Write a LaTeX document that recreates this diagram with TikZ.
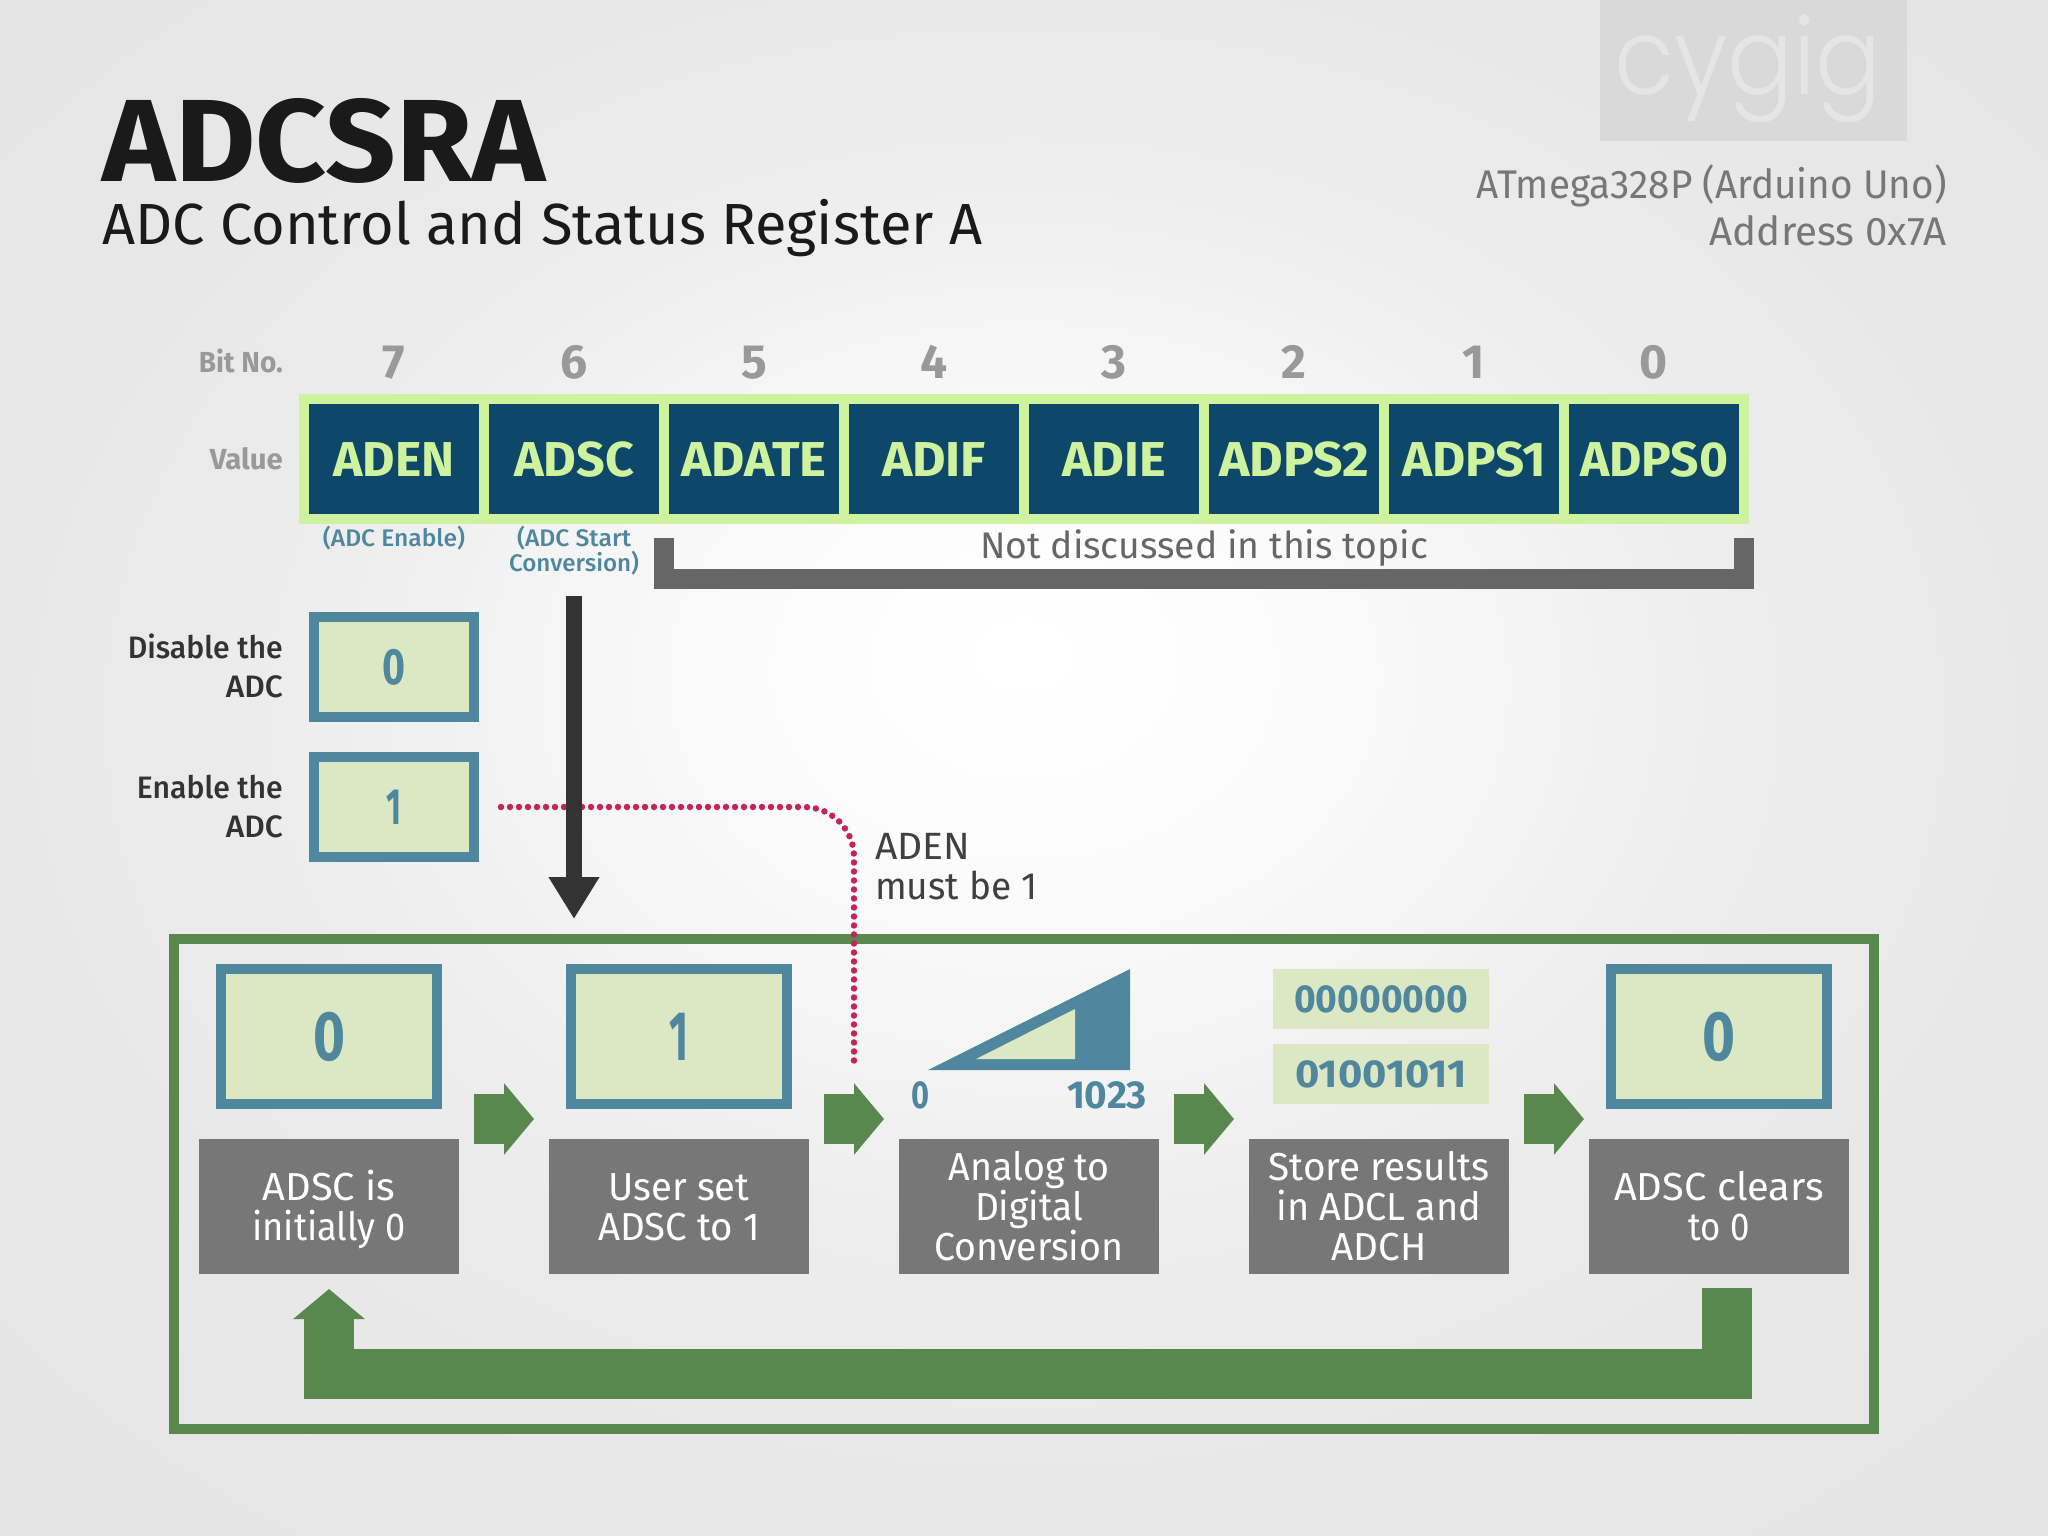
\documentclass[tikz,border=0pt]{standalone}
\usepackage{fontspec}
\usepackage{graphicx}
\setmainfont{Fira Sans}
\newfontfamily\medf{Fira Sans Medium}
\newfontfamily\logof{Poppins Light}
\usetikzlibrary{arrows.meta,calc}
\definecolor{navy}{HTML}{0D4769}
\definecolor{lime}{HTML}{CFF29F}
\definecolor{pale}{HTML}{DCE8C4}
\definecolor{steel}{HTML}{4F879E}
\definecolor{leaf}{HTML}{58884E}
\definecolor{slate}{HTML}{777777}
\definecolor{bracketc}{HTML}{666666}
\definecolor{inkc}{HTML}{1A1A1A}
\definecolor{crim}{HTML}{C2255C}
\definecolor{bga}{HTML}{FFFFFF}
\definecolor{bgb}{HTML}{FDFDFD}
\definecolor{bgc}{HTML}{F7F7F7}
\definecolor{bgd}{HTML}{F0F0F0}
\definecolor{bge}{HTML}{EBEBEB}
\definecolor{bgf}{HTML}{E8E8E8}
\definecolor{bgg}{HTML}{E2E2E2}
\pgfdeclareradialshading{bgshade}{\pgfpoint{0bp}{3.8bp}}{%
 color(0bp)=(bga);color(5bp)=(bgb);color(10bp)=(bgc);color(15bp)=(bgd);color(20bp)=(bge);color(25bp)=(bgf);color(40bp)=(bgg)}
\newcommand{\tw}[2]{\resizebox{#1pt}{\height}{#2}}
\newcommand{\Lt}[3]{\rule[\dimexpr-#1pt/5\relax]{0pt}{#1pt}\smash{\tw{#2}{#3}}}
\newcommand{\Lg}[2]{\rule[-6pt]{0pt}{40pt}\smash{\tw{#1}{#2}}}
\newcommand{\fs}[2]{\fontsize{#1}{#2}\selectfont}
\tikzset{
 every node/.style={inner sep=0pt},
 cellbox/.style={fill=navy,minimum width=170pt,minimum height=110pt,text=lime,font=\bfseries\fs{49}{49}},
 bitnum/.style={anchor=base,text=black!40,font=\bfseries\fs{48}{48}},
 sidehead/.style={anchor=base east,text=black!40,font=\bfseries\fs{29}{29}},
 caption/.style={text=steel,align=center,font=\medf\fs{24}{25}},
 sidelabel/.style={anchor=east,align=right,text=black!80,font=\medf\fs{31}{39}},
 smallval/.style={fill=pale,draw=steel,line width=10pt,minimum width=160pt,minimum height=100pt,text=steel,font=\bfseries\fs{51}{51}},
 bigval/.style={fill=pale,draw=steel,line width=10pt,minimum width=216pt,minimum height=135pt,text=steel,font=\bfseries\fs{70}{70}},
 stagebox/.style={fill=slate,text=white,minimum width=260pt,minimum height=135pt,align=center,font=\fs{39}{40}},
 binbox/.style={fill=pale,text=steel,minimum width=216pt,minimum height=60pt,font=\bfseries\fs{39}{39}},
 flowarrow/.style={leaf,line width=50pt,-{Triangle[length=30pt,width=70pt]}},
 rampnum/.style={text=steel,anchor=base,font=\bfseries\fs{39}{39}},
}
\begin{document}
\begin{tikzpicture}[x=1pt,y=-1pt]
\useasboundingbox (0,0) rectangle (2048,1536);
\shade[shading=bgshade] (0,0) rectangle (2048,1536);
% watermark
\node[fill=black!15,minimum width=307pt,minimum height=141pt] (logo) at (1753.5,70.5) {};
\node[anchor=base,text=black!10,font=\logof\fs{106}{106}] (logotext) at (1748,95) {\tw{268}{cygig}};
% headings
\node[anchor=base west,text=inkc,font=\bfseries\fs{117}{117}] (title) at (102,181) {\tw{443}{ADCSRA}};
\node[anchor=base west,text=inkc,font=\fs{58}{58}] (subtitle) at (102,244) {\tw{880}{ADC Control and Status Register A}};
\node[anchor=east,align=right,text=slate,font=\fs{40}{47}] (chip) at (1947,207.4) {\Lt{47}{470}{ATmega328P (Arduino Uno)}\\\Lt{47}{237}{Address 0x7A}};
% register
\node[sidehead] (bitno) at (283,372) {\tw{84}{Bit No.}};
\node[sidehead] (valuelbl) at (283,469) {\tw{73}{Value}};
\node[fill=lime,minimum width=1450pt,minimum height=130pt] (reg) at (1024,459) {};
\foreach \i/\x/\n/\w in {7/394/ADEN/121,6/574/ADSC/120,5/754/ADATE/145,4/934/ADIF/104,3/1114/ADIE/104,2/1294/ADPS2/150,1/1474/ADPS1/144,0/1654/ADPS0/148}{
 \node[bitnum] (bit\i) at (\x,378) {\i};
 \node[cellbox] (cell\i) at (\x,459) {\rule[-1pt]{0pt}{36pt}\tw{\w}{\n}};
}
\node[caption,anchor=base] (capen) at (394,546) {\tw{142}{(ADC Enable)}};
\node[caption] (capsc) at (574,551) {\Lt{25}{114}{(ADC Start}\\\Lt{25}{130}{Conversion)}};
% bracket
\coordinate (brl) at (664,538);
\coordinate (brr) at (1744,538);
\draw[bracketc,line width=20pt] (brl) -- (664,579) -- (1744,579) -- (brr);
\node[anchor=base,text=bracketc,font=\fs{37}{37}] (notdisc) at (1204,558) {\tw{448}{Not discussed in this topic}};
% ADEN values
\node[sidelabel] (dislbl) at (283,665.8) {\Lt{39}{155}{Disable the}\\\Lt{39}{57}{ADC}};
\node[smallval] (en0) at (394,667) {\tw{23}{0}};
\node[sidelabel] (enlbl) at (283,805.8) {\Lt{39}{146}{Enable the}\\\Lt{39}{57}{ADC}};
\node[smallval] (en1) at (394,807) {\tw{15}{1}};
% frame
\node[draw=leaf,line width=10pt,minimum width=1700pt,minimum height=490pt] (frame) at (1024,1184) {};
% stages
\node[bigval] (b1) at (329,1036.5) {\tw{32}{0}};
\node[bigval] (b2) at (679,1036.5) {\tw{19}{1}};
\node[bigval] (b5) at (1719,1036.5) {\tw{33}{0}};
\node[stagebox] (g1) at (329,1206.5) {\Lg{133}{ADSC is}\\\Lg{153}{initially 0}};
\node[stagebox] (g2) at (679,1206.5) {\Lg{141}{User set}\\\Lg{162}{ADSC to 1}};
\node[stagebox] (g3) at (1029,1206.5) {\Lg{161}{Analog to}\\\Lg{108}{Digital}\\\Lg{189}{Conversion}};
\node[stagebox] (g4) at (1379,1206.5) {\Lg{221}{Store results}\\\Lg{205}{in ADCL and}\\\Lg{95}{ADCH}};
\node[stagebox] (g5) at (1719,1206.5) {\Lg{210}{ADSC clears}\\\Lg{61}{to 0}};
% converter ramp
\fill[steel] (928,1070) -- (1130,969) -- (1130,1070) -- cycle;
\fill[pale] (976,1059) -- (1075,1009) -- (1075,1059) -- cycle;
\node[rampnum] (lo) at (920,1108) {\tw{18}{0}};
\node[rampnum] (hi) at (1107,1108) {\tw{80}{1023}};
\node[binbox] (bin1) at (1381,999) {\tw{174}{00000000}};
\node[binbox] (bin2) at (1381,1074) {\tw{171}{01001011}};
% block arrows
\foreach \n/\x in {1/474,2/824,3/1174,4/1524}{
 \coordinate (fs\n) at (\x,1119);
 \coordinate (fe\n) at ({\x+60},1119);
 \draw[flowarrow] (fs\n) -- (fe\n);
}
\coordinate (loopa) at (1727,1288);
\coordinate (loopb) at (329,1289);
\draw[flowarrow] (loopa) -- (1727,1374) -- (329,1374) -- (loopb);
% dependency note
\coordinate (dotend) at (854,1064);
\draw[crim,line width=6.5pt,line cap=round,dash pattern=on 0pt off 9pt,rounded corners=50pt] ($(en1.east)+(22,0)$) -| (dotend);
\node[anchor=west,align=left,text=black!75,font=\fs{38}{40}] (note) at (875,867) {\Lt{40}{95}{ADEN}\\\Lt{40}{162}{must be 1}};
% ADSC arrow
\coordinate (arrs) at (574,596);
\coordinate (arre) at (574,919);
\draw[black!80,line width=16pt,-{Triangle[length=42pt,width=48pt]}] (arrs) -- (arre);
\end{tikzpicture}
\end{document}
